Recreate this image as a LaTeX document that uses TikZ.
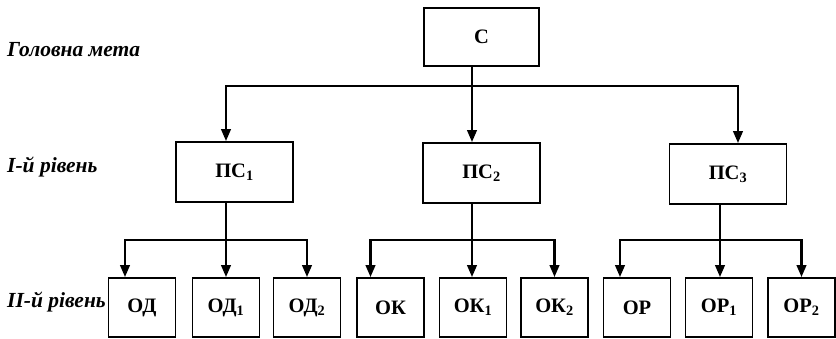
\documentclass[tikz,border=0pt]{standalone}
\usepackage{fontspec}
\setmainfont{Liberation Serif}
\usetikzlibrary{positioning, arrows.meta}

\begin{document}
\begin{tikzpicture}[
    x=1pt, y=-1pt,
    box/.style={rectangle, draw, line width=1.8pt, inner sep=0pt,
                font=\fontsize{20.5}{22}\selectfont\bfseries},
    topbox/.style={box, minimum width=115pt, minimum height=58pt},
    midbox/.style={box, minimum width=117pt, minimum height=60pt},
    lowbox/.style={box, minimum width=67pt, minimum height=59pt},
    lvl/.style={anchor=base west, inner sep=0pt,
                font=\fontsize{21.5}{23}\selectfont\bfseries\itshape},
    arr/.style={-{Triangle[length=12pt, width=9.5pt]}, line width=2.4pt},
    bus/.style={line width=2.4pt}
]
\useasboundingbox (0,0) rectangle (836,339);

\node[lvl] (goal) at (7,57)  {Головна мета};
\node[lvl] (lev1) at (7,173) {І-й рівень};
\node[lvl] (lev2) at (7,308) {ІІ-й рівень};

\node[topbox] (c)   at (481.5,37)  {С};
\node[midbox] (ps1) at (234.5,172) {ПС\textsubscript{1}};
\node[midbox] (ps2) at (481.5,173) {ПС\textsubscript{2}};
\node[midbox] (ps3) at (728,174)   {ПС\textsubscript{3}};

\node[lowbox] (od)  at (142,307.5)   {ОД};
\node[lowbox] (od1) at (226,307.5)   {ОД\textsubscript{1}};
\node[lowbox] (od2) at (307,307.5)   {ОД\textsubscript{2}};
\node[lowbox] (ok)  at (390.5,307.5) {ОК};
\node[lowbox] (ok1) at (473,307.5)   {ОК\textsubscript{1}};
\node[lowbox] (ok2) at (554.5,307.5) {ОК\textsubscript{2}};
\node[lowbox] (or)  at (637,307.5)   {ОР};
\node[lowbox] (or1) at (719,307.5)   {ОР\textsubscript{1}};
\node[lowbox] (or2) at (801.5,307.5) {ОР\textsubscript{2}};

\coordinate (j0) at (472,86);
\coordinate (j1) at (226,240);
\coordinate (j2) at (472,240);
\coordinate (j3) at (720,240);

\draw[bus] (c.south -| j0) -- (j0);
\draw[arr] (j0) -- (ps2.north -| j0);
\draw[arr] (j0) -| ([xshift=-8.5pt]ps1.north);
\draw[arr] (j0) -| ([xshift=10pt]ps3.north);

\draw[bus] (ps1.south -| j1) -- (j1);
\draw[arr] (j1) -- (od1.north);
\draw[arr] (j1) -| ([xshift=-17pt]od.north);
\draw[arr] (j1) -| (od2.north);

\draw[bus] (ps2.south -| j2) -- (j2);
\draw[arr] (j2) -- (ok1.north -| j2);
\draw[arr] (j2) -| ([xshift=-20pt]ok.north);
\draw[arr] (j2) -| (ok2.north);

\draw[bus] (ps3.south -| j3) -- (j3);
\draw[arr] (j3) -- (or1.north -| j3);
\draw[arr] (j3) -| ([xshift=-17pt]or.north);
\draw[arr] (j3) -| (or2.north);
\end{tikzpicture}
\end{document}
